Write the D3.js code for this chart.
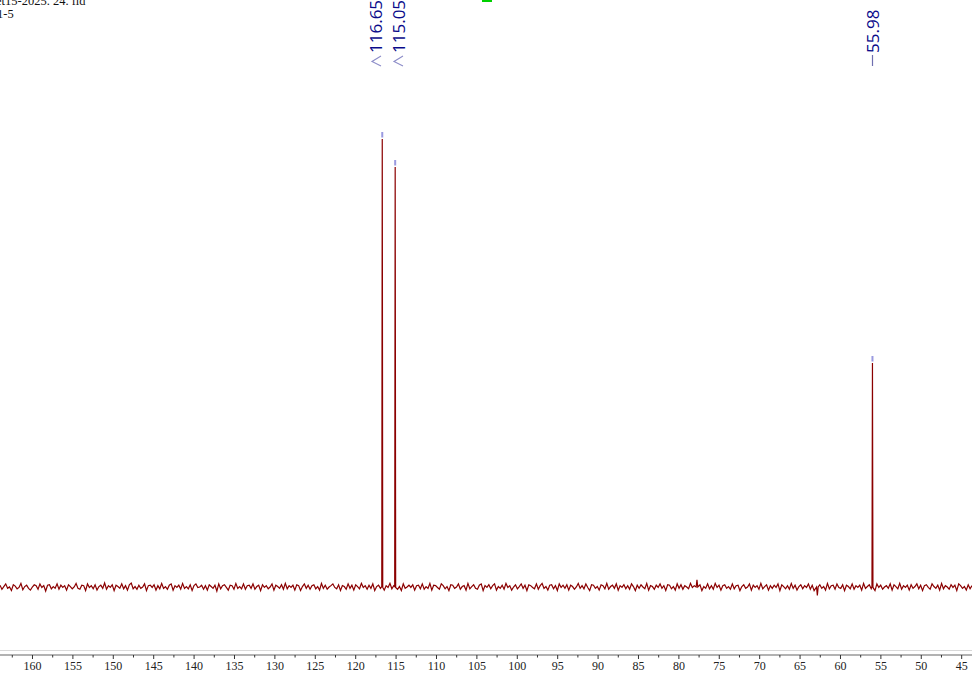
<!DOCTYPE html>
<html>
<head>
<meta charset="utf-8">
<script src="https://cdn.jsdelivr.net/npm/d3@7/dist/d3.min.js"></script>
<style>
  html, body { margin: 0; padding: 0; background: #fff; }
  svg { display: block; }
</style>
</head>
<body>
<svg id="chart" width="972" height="675"></svg>
<script>
// ---- data ----
const headerLines = ["et15-2025. 24. fid", "1-5"];
const peakPpm = [116.65, 115.05, 55.98];
const peakHeight = [100, 93.75, 50];
const peakLabels = ["116.65", "115.05", "55.98"];
const minorPpm = [77.7, 62.8];
const minorHeight = [1.6, -1.9];
const majorTicks = [160, 155, 150, 145, 140, 135, 130, 125, 120, 115, 110, 105, 100, 95, 90, 85, 80, 75, 70, 65, 60, 55, 50, 45];
const minorTicks = [162.5, 157.5, 152.5, 147.5, 142.5, 137.5, 132.5, 127.5, 122.5, 117.5, 112.5, 107.5, 102.5, 97.5, 92.5, 87.5, 82.5, 77.5, 72.5, 67.5, 62.5, 57.5, 52.5, 47.5];
// baseline noise, hand-estimated (percent of tallest peak)
const noise = [
 0.4,-0.5,0.1,0.7,-0.3,0.0,-0.8,0.5,0.2,-0.4,-0.1,0.8,-0.6,0.1,0.4,-0.3,-0.7,0.0,0.5,0.3,-0.5,0.7,-0.1,0.3,-0.9,0.4,0.5,-0.4,0.1,-0.3,0.7,-0.5,
 0.4,-0.1,0.3,-0.7,0.5,0.1,-0.4,0.0,0.8,-0.3,-0.5,0.4,0.3,-0.8,0.7,-0.1,0.3,-0.4,0.5,-0.7,0.1,0.4,-0.3,0.9,-0.5,0.3,-0.1,0.5,-0.8,0.4,0.1,-0.3,
 0.7,-0.4,0.3,-0.7,0.5,0.9,-0.4,0.1,-0.5,0.4,-0.3,0.0,0.7,-0.8,0.3,0.4,-0.1,0.5,-0.7,0.3,-0.4,0.8,-0.3,0.1,-0.5,0.4,0.7,-0.7,0.3,-0.1,0.4,-0.5,
 0.8,-0.3,0.1,-0.4,0.5,-0.8,0.3,0.7,-0.1,0.0,0.4,-0.5,0.3,-0.7,0.5,0.1,-0.3,0.4,-0.9,0.7,-0.4,0.3,0.5,-0.1,-0.7,0.4,0.3,-0.5,0.8,-0.3,0.1,-0.4,
 0.7,-0.5,0.3,0.4,-0.3,0.7,-0.5,0.1,0.4,-0.8,0.5,-0.1,0.3,-0.4,0.0,0.7,-0.7,0.4,0.1,-0.3,0.5,-0.5,0.8,-0.4,0.3,-0.1,0.4,-0.7,0.5,0.3,-0.8,0.1,
 0.7,-0.3,0.4,-0.5,0.3,0.5,-0.4,0.1,-0.7,0.8,-0.3,0.4,-0.5,0.0,0.3,0.7,-0.1,-0.4,0.5,-0.8,0.3,0.1,-0.5,0.7,-0.3,0.4,-0.7,0.5,0.1,-0.4,0.8,-0.1,
 0.3,-0.5,0.4,-0.3,0.7,-0.8,0.1,0.4,-0.3,0.5,-0.7,0.3,-0.1,0.8,-0.4,0.3,0.5,-0.5,0.1,-0.8,0.7,-0.3,0.0,0.4,-0.1,0.5,-0.7,0.3,0.4,-0.4,0.7,-0.5,
 0.1,-0.3,0.8,-0.7,0.4,0.3,-0.1,-0.5,0.7,0.3,-0.4,0.1,-0.8,0.5,0.4,-0.3,0.0,0.7,-0.5,0.1,0.3,-0.7,0.8,-0.4,0.1,0.5,-0.3,-0.5,0.4,0.7,-0.8,0.3,
 -0.1,0.5,-0.4,0.3,0.7,-0.7,0.1,-0.3,0.4,-0.5,0.8,-0.1,0.3,-0.7,0.0,0.5,-0.4,0.1,0.7,-0.3,0.4,-0.8,0.5,0.3,-0.1,-0.4,0.7,-0.5,0.3,0.8,-0.3,0.1,
 -0.7,0.4,0.5,-0.4,0.3,-0.8,0.7,-0.1,0.4,-0.3,0.5,-0.7,0.4,0.1,-0.5,0.0,0.8,-0.3,0.3,-0.4,0.7,-0.1,-0.8,0.5,0.4,-0.3,0.1,-0.7,0.5,0.3,-0.4,0.8,
 -0.5,0.1,0.4,-0.3,0.7,-0.7,0.3,-0.1,0.5,-0.4,0.3,-0.5,0.7,0.1,-0.8,0.4,-0.3,0.5,0.0,-0.4,0.8,-0.7,0.3,0.1,-0.5,0.4,-0.1,0.7,-0.3,0.3,-0.8,0.5,
 0.4,-0.4,0.1,-0.7,0.7,-0.3,0.5,-0.5,0.3,0.0,-0.4,0.8,-0.1,0.3,-0.7,0.4,0.5,-0.8,0.1,-0.3,0.7,-0.4,0.3,-0.5,0.8,-0.1,0.4,-0.7,0.3,0.5,-0.3,0.1,
 -0.5,0.7,-0.4,0.3,0.4,-0.8,0.1,0.5,-0.3,0.0,0.7,-0.7,0.4,-0.1,0.3,-0.5,0.8,-0.4,0.1,0.5,-0.7,0.3,-0.3,0.4,-0.1,0.7,-0.8,0.5,0.1,-0.4,0.3,-0.5,
 0.8,-0.3,0.4,-0.7,0.1,0.5,-0.4,0.3,-0.1,0.7,-0.5,0.4,-0.8,0.3,0.0,0.5,-0.3,0.1,-0.7,0.8,-0.4,0.3,0.4,-0.5,0.7,-0.1,-0.3,0.5,-0.8,0.4,0.1,-0.4,
 0.7,-0.5,0.3,-0.1,0.4,-0.7,0.8,-0.3,0.1,0.5,-0.4,0.3,-0.8,0.7,-0.1,0.4,-0.5,0.0,0.3,-0.3,0.7,-0.7,0.5,0.1,-0.4,0.8,-0.5,0.3,-0.1,0.4,-0.7,0.5,
 -0.3,0.1,0.7,-0.4,0.4,-0.8,0.3,0.5,-0.1,-0.5,0.7,0.1,-0.3,0.4,-0.7,0.8,-0.4,0.3,0.0,-0.5,0.5,-0.1,0.4,-0.8,0.7,0.3,-0.3,0.1,-0.7,0.5,-0.4,0.3
];

// ---- layout ----
const W = 972, H = 675;
const svg = d3.select("#chart");
const x = d3.scaleLinear().domain([163.96, 43.66]).range([0, W]);
const y = d3.scaleLinear().domain([0, 100]).range([587, 139]);

// build spectrum points
const pts = [];
const n = noise.length;
const d0 = x.domain()[0], d1 = x.domain()[1];
noise.forEach((v, i) => {
  const p = d0 + (d1 - d0) * i / (n - 1);
  if (peakPpm.some(pp => Math.abs(pp - p) < 0.1)) return;
  if (minorPpm.some(pp => Math.abs(pp - p) < 0.2)) return;
  pts.push({ p, v });
});
peakPpm.forEach((pp, i) => {
  pts.push({ p: pp + 0.06, v: 0.1 });
  pts.push({ p: pp, v: peakHeight[i] });
  pts.push({ p: pp - 0.06, v: -0.1 });
});
minorPpm.forEach((pp, i) => {
  pts.push({ p: pp + 0.1, v: 0.0 });
  pts.push({ p: pp, v: minorHeight[i] });
  pts.push({ p: pp - 0.1, v: 0.0 });
});
pts.sort((a, b) => b.p - a.p);

// header text
svg.append("g").selectAll("text").data(headerLines).join("text")
  .attr("x", (d, i) => i === 0 ? -4 : -3)
  .attr("y", (d, i) => 5 + i * 13)
  .attr("font-family", "Liberation Serif, serif")
  .attr("font-size", 12.5)
  .attr("fill", "#111")
  .text(d => d);

// green marker at top
svg.append("rect").attr("x", 482).attr("y", -2).attr("width", 10).attr("height", 4).attr("fill", "#00d000");

// spectrum
const line = d3.line().x(d => x(d.p)).y(d => y(d.v));
svg.append("path").datum(pts)
  .attr("d", line)
  .attr("fill", "none")
  .attr("stroke", "#8b0000")
  .attr("stroke-width", 1.2)
  .attr("stroke-linejoin", "miter");

// peak-pick markers
svg.append("g").selectAll("line").data(peakPpm).join("line")
  .attr("x1", d => x(d)).attr("x2", d => x(d))
  .attr("y1", (d, i) => y(peakHeight[i]) - 7)
  .attr("y2", (d, i) => y(peakHeight[i]) - 1.5)
  .attr("stroke", "#9a9ae0").attr("stroke-width", 2);

// peak labels
const labelX = [376, 399, 872.5];
const lab = svg.append("g");
peakLabels.forEach((t, i) => {
  lab.append("text")
    .attr("transform", `translate(${labelX[i]},53) rotate(-90)`)
    .attr("dy", "0.36em")
    .attr("font-family", "Open Sans, sans-serif")
    .attr("font-size", 17)
    .attr("fill", "#0a0a8a")
    .text(t);
});
// connectors
lab.append("path")
  .attr("d", `M${labelX[0] + 5},56 L${labelX[0] - 4},61.5 L${labelX[0] + 5},66`)
  .attr("fill", "none").attr("stroke", "#8c8cc8").attr("stroke-width", 1.1);
lab.append("path")
  .attr("d", `M${labelX[1] + 4},56 L${labelX[1] - 5},61.5 L${labelX[1] + 4},66`)
  .attr("fill", "none").attr("stroke", "#8c8cc8").attr("stroke-width", 1.1);
lab.append("line")
  .attr("x1", labelX[2]).attr("x2", labelX[2]).attr("y1", 55).attr("y2", 66)
  .attr("stroke", "#6f6fb0").attr("stroke-width", 1.2);

// axis
svg.append("line").attr("x1", 0).attr("x2", W).attr("y1", 650.5).attr("y2", 650.5)
  .attr("stroke", "#d8d8d8").attr("stroke-width", 1);
svg.append("line").attr("x1", 0).attr("x2", W).attr("y1", 655).attr("y2", 655)
  .attr("stroke", "#999").attr("stroke-width", 1.6);

const axis = d3.axisBottom(x).tickValues(majorTicks).tickSize(4).tickPadding(2).tickFormat(d3.format("d"));
const gAx = svg.append("g").attr("transform", "translate(0,655)").call(axis);
gAx.select(".domain").remove();
gAx.selectAll(".tick line").attr("stroke", "#333");
gAx.selectAll(".tick text")
  .attr("font-family", "Liberation Serif, serif")
  .attr("font-size", 12)
  .attr("fill", "#222");

const axMinor = d3.axisBottom(x).tickValues(minorTicks).tickSize(2.5).tickFormat("");
const gMin = svg.append("g").attr("transform", "translate(0,655)").call(axMinor);
gMin.select(".domain").remove();
gMin.selectAll(".tick line").attr("stroke", "#333");

// axis title (mostly cut off at bottom)
svg.append("text").attr("x", 495).attr("y", 684).attr("text-anchor", "middle")
  .attr("font-family", "Liberation Serif, serif").attr("font-size", 12).attr("fill", "#555")
  .text("f1 (ppm)");
</script>
</body>
</html>
